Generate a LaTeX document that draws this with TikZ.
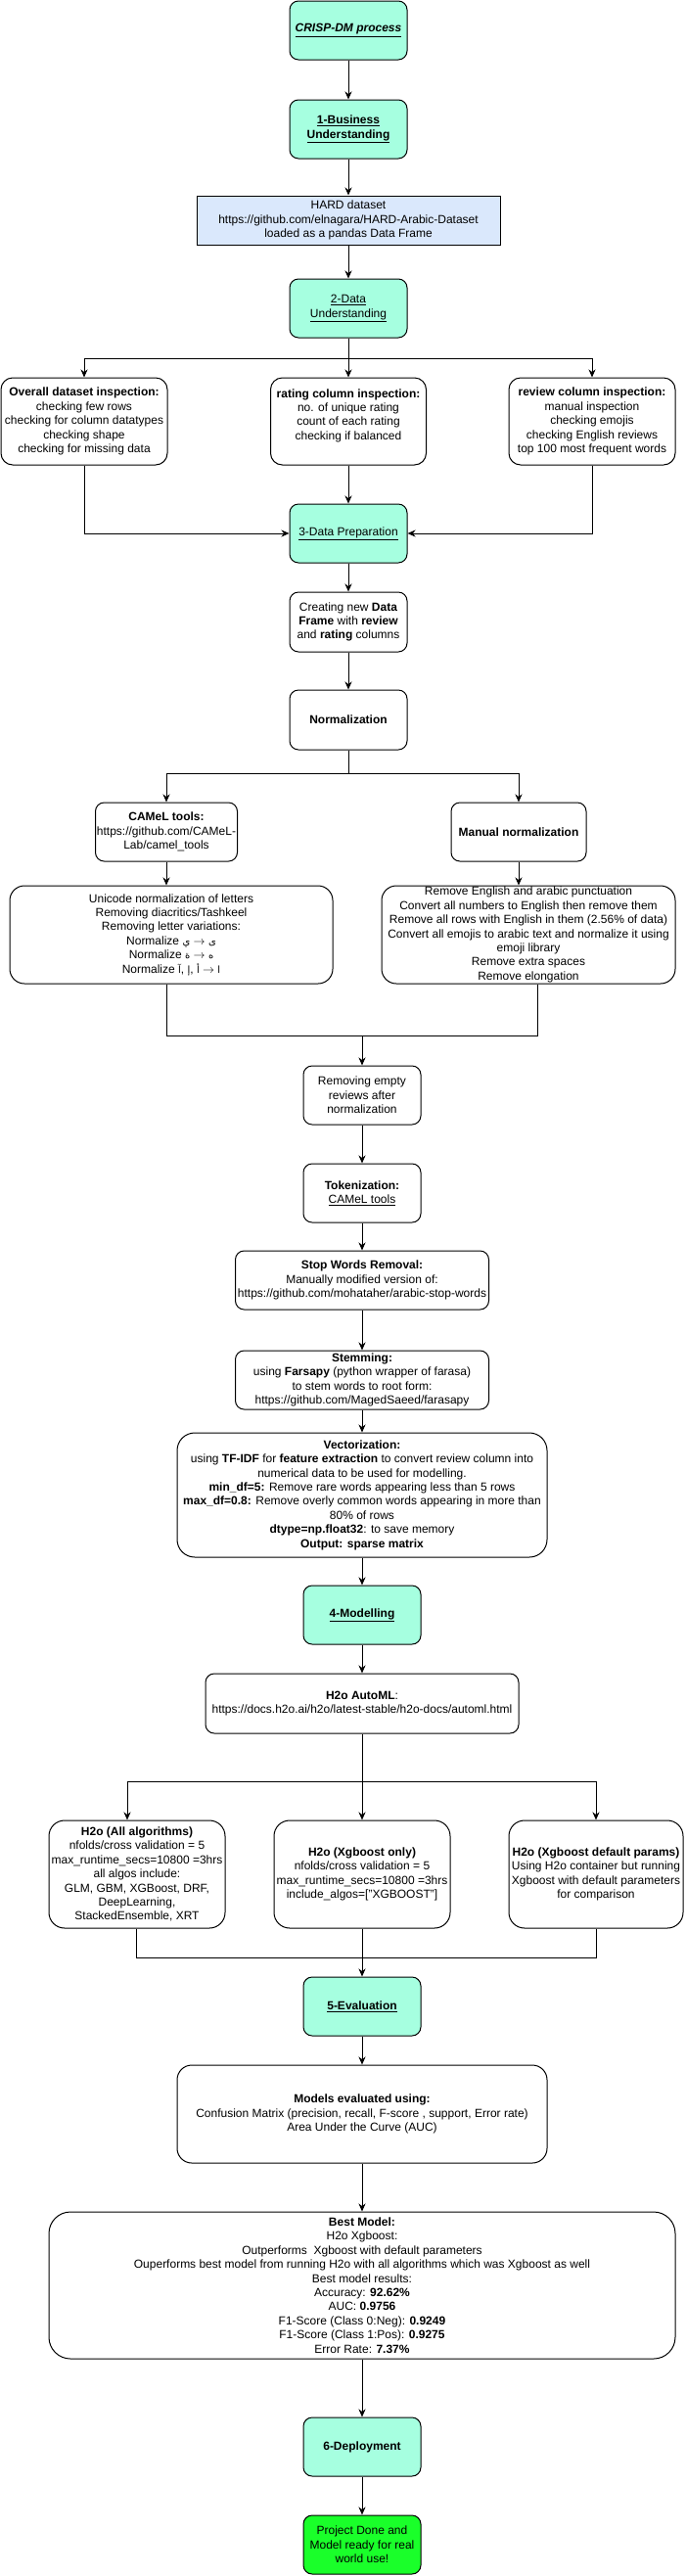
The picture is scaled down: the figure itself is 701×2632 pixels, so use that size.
\documentclass[tikz,border=0pt]{standalone}
\usepackage{fontspec}
\setmainfont{Liberation Sans}
\newfontfamily\arabicfont[Script=Arabic]{DejaVu Sans}
\usetikzlibrary{arrows.meta,calc}
\definecolor{phasefill}{RGB}{166,255,224}
\definecolor{datafill}{RGB}{218,232,252}
\definecolor{donefill}{RGB}{26,255,42}
\newcommand{\arb}[1]{{\arabicfont\fontsize{10}{12}\selectfont #1}}
\tikzset{
  box/.style={draw=black, line width=1pt, rounded corners=9pt, align=center, inner sep=0pt,
    font=\fontsize{12}{14.4}\selectfont},
  phase/.style={box, fill=phasefill},
  arr/.style={line width=1pt, -{Stealth[length=8pt,width=7pt,inset=2.5pt]}},
  ln/.style={line width=1pt},
}
\begin{document}
\begin{tikzpicture}[x=1pt,y=-1pt]
\useasboundingbox (0,0) rectangle (701,2632);

% ---------- top column ----------
\node[phase, minimum width=120pt, minimum height=60pt] (crisp) at (356,31)
  {\textbf{\textit{\underline{CRISP-DM process}}}};
\node[phase, minimum width=120pt, minimum height=60pt] (bus) at (356,132)
  {\textbf{\underline{1-Business}}\\\textbf{\underline{Understanding}}};
\node[box, rounded corners=0pt, fill=datafill, minimum width=310pt, minimum height=50pt] (hard) at (356,225)
  {HARD dataset\\https://github.com/elnagara/HARD-Arabic-Dataset\\loaded as a pandas Data Frame};
\node[phase, minimum width=120pt, minimum height=60pt] (du) at (356,315)
  {\underline{2-Data}\\\underline{Understanding}};

\node[box, rounded corners=12pt, minimum width=170pt, minimum height=89pt] (ovr) at (86,430.5)
  {\textbf{Overall dataset inspection:}\\checking few rows\\checking for column datatypes\\checking shape\\checking for missing data};
\node[box, rounded corners=12pt, minimum width=159pt, minimum height=89pt] (rat) at (356,430.5)
  {\textbf{rating column inspection:}\\no. of unique rating\\count of each rating\\checking if balanced\\\mbox{}};
\node[box, rounded corners=12pt, minimum width=170pt, minimum height=89pt] (rev) at (605,430.5)
  {\textbf{review column inspection:}\\manual inspection\\checking emojis\\checking English reviews\\top 100 most frequent words};

\node[phase, minimum width=120pt, minimum height=60pt] (prep) at (356,545)
  {\underline{3-Data Preparation}};
\node[box, minimum width=120pt, minimum height=61pt] (newdf) at (356,635.5)
  {Creating new \textbf{Data}\\\textbf{Frame} with \textbf{review}\\and \textbf{rating} columns};
\node[box, minimum width=120pt, minimum height=61pt] (norm) at (356,735.5)
  {\textbf{Normalization}};

% ---------- normalization branches ----------
\node[box, minimum width=145pt, minimum height=60pt] (camel) at (170,850)
  {\textbf{CAMeL tools:}\\https://github.com/CAMeL-\\Lab/camel\_tools};
\node[box, minimum width=138pt, minimum height=60pt] (manual) at (530,850)
  {\textbf{Manual normalization}};
\node[box, rounded corners=15pt, minimum width=330pt, minimum height=100pt] (camelbox) at (175,955)
  {Unicode normalization of letters\\Removing diacritics/Tashkeel\\Removing letter variations:\\
   Normalize \arb{ي} $\rightarrow$ \arb{ى}\\
   Normalize \arb{ة} $\rightarrow$ \arb{ه}\\
   Normalize \arb{آ}, \arb{إ}, \arb{أ} $\rightarrow$ \arb{ا}};
\node[box, rounded corners=15pt, minimum width=300pt, minimum height=100pt] (manbox) at (540,955)
  {Remove English and arabic punctuation\\Convert all numbers to English then remove them\\
   Remove all rows with English in them (2.56\% of data)\\
   Convert all emojis to arabic text and normalize it using\\emoji library\\
   Remove extra spaces\\Remove elongation};

% ---------- lower column ----------
\node[box, minimum width=120pt, minimum height=60pt] (empty) at (370,1119)
  {Removing empty\\reviews after\\normalization};
\node[box, minimum width=120pt, minimum height=60pt] (tok) at (370,1219)
  {\textbf{Tokenization:}\\\underline{CAMeL tools}};
\node[box, minimum width=259pt, minimum height=60pt] (stop) at (370,1308)
  {\textbf{Stop Words Removal:}\\Manually modified version of:\\https://github.com/mohataher/arabic-stop-words};
\node[box, minimum width=259pt, minimum height=60pt] (stem) at (370,1410)
  {\textbf{Stemming:}\\using \textbf{Farsapy} (python wrapper of farasa)\\to stem words to root form:\\https://github.com/MagedSaeed/farasapy};
\node[box, rounded corners=18pt, minimum width=378pt, minimum height=127pt] (vec) at (370,1527.5)
  {\textbf{Vectorization:}\\
   using \textbf{TF-IDF} for \textbf{feature extraction} to convert review column into\\
   numerical data to be used for modelling.\\
   \textbf{min\_df=5:} Remove rare words appearing less than 5 rows\\
   \textbf{max\_df=0.8:} Remove overly common words appearing in more than\\
   80\% of rows\\
   \textbf{dtype=np.float32}: to save memory\\
   \textbf{Output: sparse matrix}};

\node[phase, minimum width=120pt, minimum height=60pt] (model) at (370,1650)
  {\textbf{\underline{4-Modelling}}};
\node[box, minimum width=320pt, minimum height=61pt] (automl) at (370,1740.5)
  {\textbf{H2o AutoML}:\\https://docs.h2o.ai/h2o/latest-stable/h2o-docs/automl.html};

\node[box, rounded corners=16pt, minimum width=180pt, minimum height=110pt] (all) at (140,1915)
  {\textbf{H2o (All algorithms)}\\nfolds/cross validation = 5\\max\_runtime\_secs=10800 =3hrs\\all algos include:\\GLM, GBM, XGBoost, DRF,\\DeepLearning,\\StackedEnsemble, XRT};
\node[box, rounded corners=16pt, minimum width=180pt, minimum height=110pt] (xgb) at (370,1915)
  {\textbf{H2o (Xgboost only)}\\nfolds/cross validation = 5\\max\_runtime\_secs=10800 =3hrs\\include\_algos=["XGBOOST"]};
\node[box, rounded corners=16pt, minimum width=178pt, minimum height=110pt] (def) at (609,1915)
  {\textbf{H2o (Xgboost default params)}\\Using H2o container but running\\Xgboost with default parameters\\for comparison};

\node[phase, minimum width=120pt, minimum height=60pt] (eval) at (370,2050)
  {\textbf{\underline{5-Evaluation}}};
\node[box, rounded corners=15pt, minimum width=378pt, minimum height=100pt] (models) at (370,2160)
  {\textbf{Models evaluated using:}\\Confusion Matrix (precision, recall, F-score , support, Error rate)\\Area Under the Curve (AUC)};
\node[box, rounded corners=22pt, minimum width=640pt, minimum height=150pt] (best) at (370,2335)
  {\textbf{Best Model:}\\H2o Xgboost:\\Outperforms\ \ Xgboost with default parameters\\
   Ouperforms best model from running H2o with all algorithms which was Xgboost as well\\
   Best model results:\\Accuracy: \textbf{92.62\%}\\AUC: \textbf{0.9756}\\
   F1-Score (Class 0:Neg): \textbf{0.9249}\\F1-Score (Class 1:Pos): \textbf{0.9275}\\
   Error Rate: \textbf{7.37\%}};
\node[phase, minimum width=120pt, minimum height=60pt] (deploy) at (370,2500)
  {\textbf{6-Deployment}};
\node[box, fill=donefill, minimum width=120pt, minimum height=60pt] (done) at (370,2600)
  {Project Done and\\Model ready for real\\world use!};

% ---------- connectors ----------
\draw[arr] (crisp) -- (bus);
\draw[arr] (bus) -- (hard);
\draw[arr] (hard) -- (du);

\coordinate (j1) at (356,366);
\draw[ln] (du.south) -- (j1);
\draw[arr] (j1) -| (ovr.north);
\draw[arr] (j1) -| (rev.north);
\draw[arr] (j1) -- (rat.north);
\draw[arr] (ovr.south) |- (prep.west);
\draw[arr] (rat.south) -- (prep.north);
\draw[arr] (rev.south) |- (prep.east);

\draw[arr] (prep) -- (newdf);
\draw[arr] (newdf) -- (norm);

\coordinate (j2) at (356,790);
\draw[ln] (norm.south) -- (j2);
\draw[arr] (j2) -| (camel.north);
\draw[arr] (j2) -| (manual.north);
\draw[arr] (camel.south) -- (camel.south |- camelbox.north);
\draw[arr] (manual.south) -- (manual.south |- manbox.north);

\coordinate (m1) at (170,1058);
\coordinate (m2) at (549,1058);
\coordinate (j3) at (370,1058);
\draw[ln] (camelbox.south -| m1) -- (m1) -- (m2) -- (manbox.south -| m2);
\draw[arr] (j3) -- (empty.north);

\draw[arr] (empty) -- (tok);
\draw[arr] (tok) -- (stop);
\draw[arr] (stop) -- (stem);
\draw[arr] (stem) -- (vec);
\draw[arr] (vec) -- (model);
\draw[arr] (model) -- (automl);

\coordinate (j4) at (370,1820);
\coordinate (s1) at (130,1820);
\coordinate (s3) at (609,1820);
\draw[ln] (automl.south) -- (j4);
\draw[ln] (s1) -- (s3);
\draw[arr] (s1) -- (s1 |- all.north);
\draw[arr] (j4) -- (xgb.north);
\draw[arr] (s3) -- (s3 |- def.north);

\coordinate (t1) at (139,2000);
\coordinate (t3) at (609,2000);
\draw[ln] (all.south -| t1) -- (t1) -- (t3) -- (def.south -| t3);
\draw[arr] (xgb.south) -- (eval.north);

\draw[arr] (eval) -- (models);
\draw[arr] (models) -- (best);
\draw[arr] (best) -- (deploy);
\draw[arr] (deploy) -- (done);
\end{tikzpicture}
\end{document}
